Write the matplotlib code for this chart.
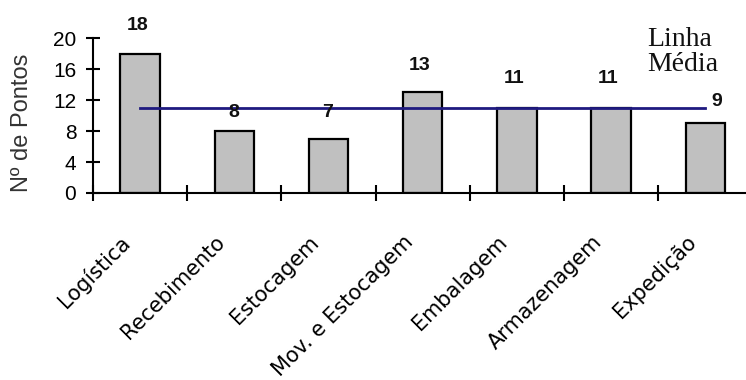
import matplotlib
matplotlib.use("Agg")
import matplotlib.pyplot as plt
import numpy as np

# Pontuação por área
categorias = ["Logística", "Recebimento", "Estocagem", "Mov. e Estocagem",
              "Embalagem", "Armazenagem", "Expedição"]
pontos = [18, 8, 7, 13, 11, 11, 9]
y_ticks = [0, 4, 8, 12, 16, 20]

# deslocamento (pt) de cada rótulo de valor em relação ao topo da barra
offsets = [(-1.5, 20), (0, 13), (-1, 19), (-2, 19.5), (-2, 21), (-2, 21), (8.5, 16)]

fig = plt.figure(figsize=(7.46, 3.80), dpi=100)
ax = fig.add_axes([93 / 746, 1 - 193 / 380, 659.4 / 746, 155 / 380])

x = np.arange(len(categorias))
ax.bar(x, pontos, width=0.42, color="#c0c0c0", edgecolor="black", linewidth=1.6, zorder=2)

media = np.mean(pontos)
ax.plot([x[0], x[-1]], [media, media], color="#1f1a80", linewidth=2.0, zorder=3)

for xi, v, (dx, dy) in zip(x, pontos, offsets):
    ax.annotate(str(v), xy=(xi, v), xytext=(dx, dy), textcoords="offset points",
                ha="center", va="center", fontsize=14, fontweight="bold",
                family="Liberation Sans", color="#111111")

ax.set_xlim(-0.5, len(categorias) - 0.5)
ax.set_ylim(0, 20)
ax.set_yticks(y_ticks)
ax.set_yticklabels([str(t) for t in y_ticks], family="Liberation Sans", fontsize=15)
ax.set_xticks(np.arange(len(categorias) + 1) - 0.5)
ax.set_xticklabels([])

ax.tick_params(axis="y", direction="inout", length=10, width=1.5, pad=7)
ax.tick_params(axis="x", direction="inout", length=12, width=1.5)

for side in ("top", "right"):
    ax.spines[side].set_visible(False)
for side in ("left", "bottom"):
    ax.spines[side].set_linewidth(1.5)
ax.spines["left"].set_bounds(0, 20)

for xi, nome in zip(x, categorias):
    ax.annotate(nome, xy=(xi, 0), xycoords=("data", "axes fraction"),
                xytext=(-4, -28), textcoords="offset points",
                rotation=45, ha="right", va="top", fontsize=15,
                family="DejaVu Sans", color="black")

ax.set_ylabel("Nº de Pontos", family="Liberation Sans", fontsize=17, color="#333333")
ax.yaxis.set_label_coords(-0.091, 0.45)

fig.text(647 / 746, 1 - 27 / 380, "Linha\nMédia", ha="left", va="top",
         family="Liberation Serif", fontsize=20, linespacing=1.0, color="#111111")

fig.savefig("out.png", dpi=100)
